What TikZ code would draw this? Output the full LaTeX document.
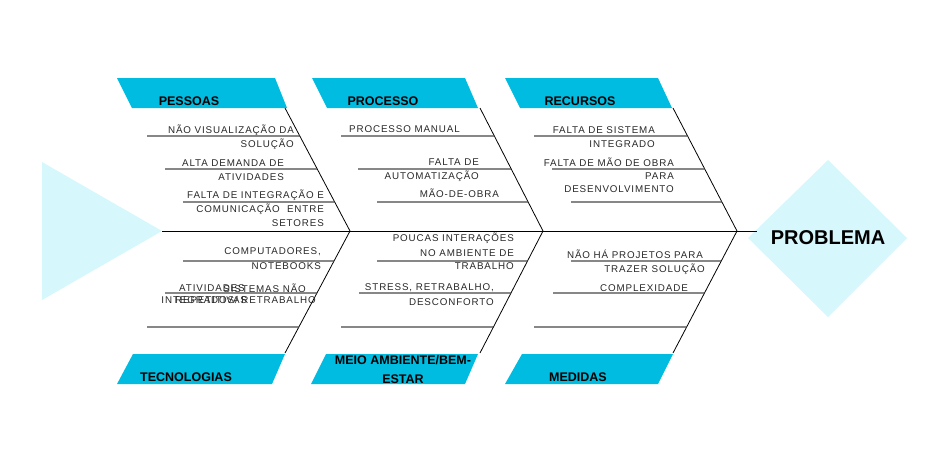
\documentclass[tikz,border=0pt]{standalone}
\usepackage{fontspec}
\setmainfont{Liberation Sans}
\newfontfamily\itemfont[LetterSpace=9]{Liberation Sans}
\usetikzlibrary{calc}
\definecolor{hdr}{RGB}{0,188,224}
\definecolor{pale}{RGB}{214,247,252}
\definecolor{txt}{RGB}{40,40,40}
\definecolor{rib}{RGB}{70,70,70}
\tikzset{
 it/.style={inner sep=0pt, font=\itemfont\fontsize{9.8}{11}\selectfont, text=txt},
 hd/.style={inner sep=0pt, font=\bfseries\fontsize{12.5}{14}\selectfont, text=black},
 ribline/.style={draw=rib, line width=1.3pt},
 bone/.style={draw=black, line width=0.8pt},
 hbox/.style={fill=hdr},
}
\begin{document}
\begin{tikzpicture}[x=1pt,y=-1pt]
\useasboundingbox (0,0) rectangle (944,475);
% tail and head
\fill[pale] (42,162) -- (42,300) -- (162,231) -- cycle;
\coordinate (tail) at (162,231);
\fill[pale] (828,160) -- (907,238) -- (828,317) -- (748,238) -- cycle;
\node[inner sep=0pt, font=\bfseries\fontsize{20}{22}\selectfont] (prob) at (828,238) {PROBLEMA};
\coordinate (head) at (757,231);
\draw[line width=1pt] (tail) -- (head);
% bones
\foreach \i/\sx/\ax in {1/285/350, 2/480/543, 3/673/737} {
  \coordinate (ts\i) at (\sx,108);
  \coordinate (ap\i) at (\ax,231);
  \coordinate (be\i) at (\sx,353);
  \draw[bone] (ts\i) -- (ap\i) -- (be\i);
}
% header boxes
\fill[hbox] (117,78) -- (275,78) -- (287,108) -- (132,108) -- cycle;
\fill[hbox] (312,78) -- (465,78) -- (478,108) -- (327,108) -- cycle;
\fill[hbox] (505,78) -- (658,78) -- (672,108) -- (520,108) -- cycle;
\fill[hbox] (133,354) -- (285,354) -- (272,384) -- (117,384) -- cycle;
\fill[hbox] (326,354) -- (478,354) -- (465,384) -- (311,384) -- cycle;
\fill[hbox] (522,354) -- (673,354) -- (658,384) -- (505,384) -- cycle;
\node[hd] (h1) at (189,101) {PESSOAS};
\node[hd] (h2) at (383,101) {PROCESSO};
\node[hd] (h3) at (580,101) {RECURSOS};
\node[hd] (h4) at (186,377) {TECNOLOGIAS};
\node[hd] (h5a) at (403,360) {MEIO AMBIENTE/BEM-};
\node[hd] (h5b) at (403,379) {ESTAR};
\node[hd] (h6) at (578,377) {MEDIDAS};
% ribs top
\foreach \i/\a/\b/\c in {1/147/165/183, 2/341/358/377, 3/534/552/571} {
  \draw[ribline] (\a,136) -- ($(ts\i)!0.228!(ap\i)$);
  \draw[ribline] (\b,169) -- ($(ts\i)!0.496!(ap\i)$);
  \draw[ribline] (\c,202) -- ($(ts\i)!0.764!(ap\i)$);
}
% ribs bottom
\foreach \i/\a/\b/\c in {1/183/165/147, 2/377/359/341, 3/571/553/534} {
  \draw[ribline] (\a,261) -- ($(ap\i)!0.246!(be\i)$);
  \draw[ribline] (\b,293) -- ($(ap\i)!0.508!(be\i)$);
  \draw[ribline] (\c,327) -- ($(ap\i)!0.787!(be\i)$);
}
% PESSOAS items
\node[it, anchor=east] (p1a) at (294,130) {NÃO VISUALIZAÇÃO DA};
\node[it, anchor=east] (p1b) at (294,144) {SOLUÇÃO};
\node[it, anchor=east] (p2a) at (284,163) {ALTA DEMANDA DE};
\node[it, anchor=east] (p2b) at (284,177) {ATIVIDADES};
\node[it, anchor=east] (p3a) at (324,195) {FALTA DE INTEGRAÇÃO E};
\node[it, anchor=east] (p3b) at (324,209) {COMUNICAÇÃO\ \ ENTRE};
\node[it, anchor=east] (p3c) at (324,223) {SETORES};
% PROCESSO items
\node[it, anchor=west] (r1) at (349,129) {PROCESSO MANUAL};
\node[it, anchor=east] (r2a) at (479,162) {FALTA DE};
\node[it, anchor=east] (r2b) at (479,176) {AUTOMATIZAÇÃO};
\node[it, anchor=east] (r3) at (499,193) {MÃO-DE-OBRA};
% RECURSOS items
\node[it, anchor=east] (c1a) at (655,130) {FALTA DE SISTEMA};
\node[it, anchor=east] (c1b) at (655,144) {INTEGRADO};
\node[it, anchor=east] (c2a) at (674,162) {FALTA DE MÃO DE OBRA};
\node[it, anchor=east] (c2b) at (674,176) {PARA};
\node[it, anchor=east] (c2c) at (674,189) {DESENVOLVIMENTO};
% TECNOLOGIAS items
\node[it, anchor=east] (t1a) at (321,252) {COMPUTADORES,};
\node[it, anchor=east] (t1b) at (321,266) {NOTEBOOKS};
\node[it, anchor=west] (t2a) at (179,288) {ATIVIDADES};
\node[it, anchor=west] (t2b) at (175,300) {REPETITIVAS};
\node[it, anchor=east] (t3a) at (306,288) {SISTEMAS NÃO};
\node[it, anchor=east] (t3b) at (316,300) {INTEGRADOS/ RETRABALHO};
% MEIO AMBIENTE items
\node[it, anchor=east] (m1a) at (514,238) {POUCAS INTERAÇÕES};
\node[it, anchor=east] (m1b) at (514,253) {NO AMBIENTE DE};
\node[it, anchor=east] (m1c) at (514,266) {TRABALHO};
\node[it, anchor=east] (m2a) at (494,288) {STRESS, RETRABALHO,};
\node[it, anchor=east] (m2b) at (494,302) {DESCONFORTO};
% MEDIDAS items
\node[it, anchor=east] (d1a) at (703,254) {NÃO HÁ PROJETOS PARA};
\node[it, anchor=east] (d1b) at (705,269) {TRAZER SOLUÇÃO};
\node[it, anchor=east] (d2) at (688,288) {COMPLEXIDADE};
\end{tikzpicture}
\end{document}
